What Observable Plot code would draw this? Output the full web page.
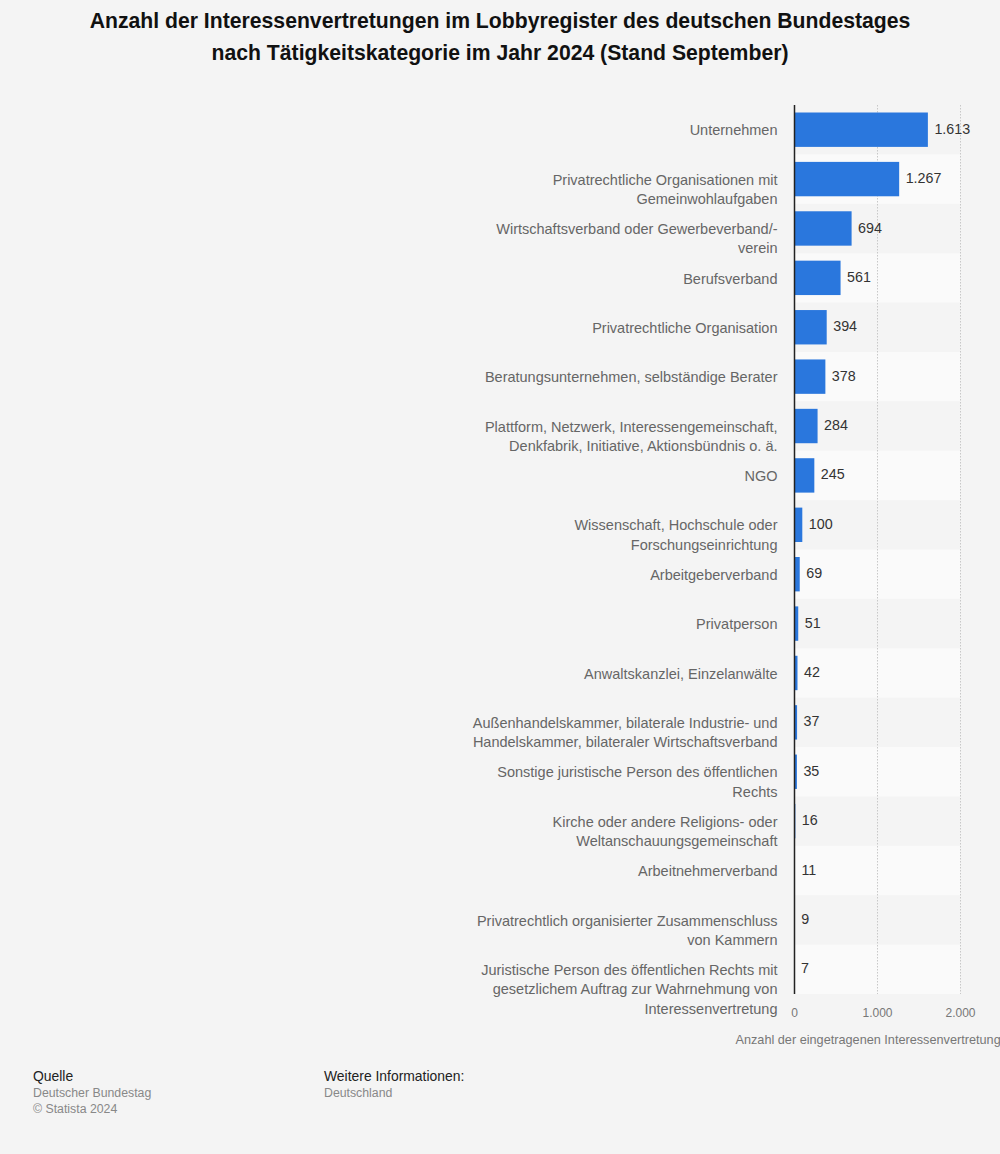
<!DOCTYPE html>
<html>
<head>
<meta charset="utf-8">
<script src="https://cdn.jsdelivr.net/npm/d3@7"></script>
<script src="https://cdn.jsdelivr.net/npm/@observablehq/plot@0.6"></script>
<style>
  html, body { margin: 0; padding: 0; background: #f4f4f4; }
  body { width: 1000px; height: 1154px; position: relative; overflow: hidden; font-family: "Liberation Sans", Arial, sans-serif; }
  #title { position: absolute; top: 5px; left: 0; width: 1000px; text-align: center; font-weight: bold; font-size: 21.2px; line-height: 32px; color: #111; }
  #chart { position: absolute; top: 90px; left: 0; }
  #chart svg { display: block; }
  .foot { position: absolute; top: 1068px; font-size: 12.3px; line-height: 16px; color: #888; }
  .foot .h { color: #222; font-size: 13.9px; line-height: 17px; }
</style>
</head>
<body>
<div id="title">Anzahl der Interessenvertretungen im Lobbyregister des deutschen Bundestages<br>nach Tätigkeitskategorie im Jahr 2024 (Stand September)</div>
<div id="chart"></div>
<div class="foot" style="left:33px"><div class="h">Quelle</div>Deutscher Bundestag<br>© Statista 2024</div>
<div class="foot" style="left:324px"><div class="h">Weitere Informationen:</div>Deutschland</div>
<script>
const categories = [
  "Unternehmen",
  "Privatrechtliche Organisationen mit\nGemeinwohlaufgaben",
  "Wirtschaftsverband oder Gewerbeverband/-\nverein",
  "Berufsverband",
  "Privatrechtliche Organisation",
  "Beratungsunternehmen, selbständige Berater",
  "Plattform, Netzwerk, Interessengemeinschaft,\nDenkfabrik, Initiative, Aktionsbündnis o. ä.",
  "NGO",
  "Wissenschaft, Hochschule oder\nForschungseinrichtung",
  "Arbeitgeberverband",
  "Privatperson",
  "Anwaltskanzlei, Einzelanwälte",
  "Außenhandelskammer, bilaterale Industrie- und\nHandelskammer, bilateraler Wirtschaftsverband",
  "Sonstige juristische Person des öffentlichen\nRechts",
  "Kirche oder andere Religions- oder\nWeltanschauungsgemeinschaft",
  "Arbeitnehmerverband",
  "Privatrechtlich organisierter Zusammenschluss\nvon Kammern",
  "Juristische Person des öffentlichen Rechts mit\ngesetzlichem Auftrag zur Wahrnehmung von\nInteressenvertretung"
];
const values = [1613, 1267, 694, 561, 394, 378, 284, 245, 100, 69, 51, 42, 37, 35, 16, 11, 9, 7];
const xTicks = [0, 1000, 2000];
const xTitle = "Anzahl der eingetragenen Interessenvertretungen";

const data = categories.map((c, i) => ({category: c, value: values[i], i}));
const de = d3.formatLocale({decimal: ",", thousands: ".", grouping: [3], currency: ["", " €"]});
const fmt = de.format(",d");

const chart = Plot.plot({
  width: 1000,
  height: 965,
  marginTop: 15,
  marginBottom: 61,
  marginLeft: 794,
  marginRight: 40,
  style: {background: "transparent", fontFamily: "Liberation Sans, Arial, sans-serif"},
  x: {domain: [0, 2000]},
  y: {domain: categories, padding: 0, round: false},
  marks: [
    Plot.barX(data.filter(d => d.i % 2 === 1), {x1: 0, x2: 2000, y: "category", fill: "#fafafa"}),
    Plot.ruleX(xTicks.slice(1), {stroke: "#c8c8c8", strokeDasharray: "1.5,1.5", strokeWidth: 1}),
    Plot.barX(data, {x: "value", y: "category", fill: "#2a77dd", insetTop: 7.5, insetBottom: 7.5}),
    Plot.ruleX([0], {stroke: "#222", strokeWidth: 1.5}),
    Plot.text(data, {x: "value", y: "category", text: d => fmt(d.value), textAnchor: "start", dx: 6, dy: -1, fill: "#333", fontSize: 14.3}),
    Plot.text(data, {x: 0, y: "category", text: "category", textAnchor: "end", lineAnchor: "top", dx: -17, dy: -8.5, lineHeight: 1.33, fill: "#666", fontSize: 14.5}),
    Plot.axisX(xTicks, {tickSize: 0, tickPadding: 14, tickFormat: fmt, fill: "#777", fontSize: 12, label: null}),
    Plot.axisY({ticks: [], label: null, tickSize: 0}),
    Plot.text([xTitle], {frameAnchor: "bottom-left", dx: -59, dy: 49, text: d => d, textAnchor: "start", fill: "#777", fontSize: 12.7})
  ]
});
document.getElementById("chart").appendChild(chart);
</script>
</body>
</html>
